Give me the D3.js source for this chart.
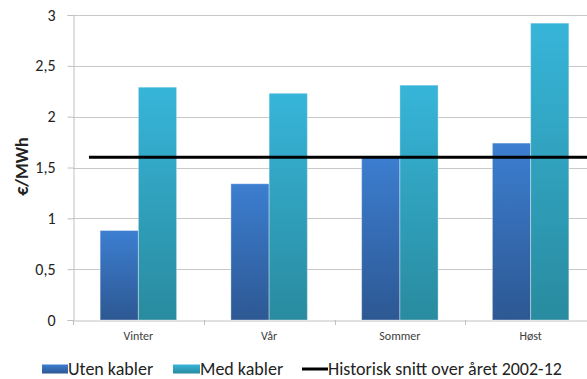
<!DOCTYPE html>
<html><head><meta charset="utf-8">
<script src="https://cdn.jsdelivr.net/npm/d3@7"></script>
<style>body{margin:0;background:#fff}svg{display:block}</style>
</head><body>
<script>
const categories = ["Vinter", "Vår", "Sommer", "Høst"];
const seriesNames = ["Uten kabler", "Med kabler"];
const utenKabler = [0.88, 1.34, 1.6, 1.74];
const medKabler = [2.29, 2.23, 2.31, 2.92];
const historiskSnitt = 1.6;
const lineLabel = "Historisk snitt over året 2002-12";
const yTicks = [0, 0.5, 1, 1.5, 2, 2.5, 3];
const yLabel = "€/MWh";

const W = 587, H = 379;
const svg = d3.select("body").append("svg").attr("width", W).attr("height", H);
const defs = svg.append("defs");
function grad(id, c1, c2) {
  const g = defs.append("linearGradient").attr("id", id).attr("x1", 0).attr("y1", 0).attr("x2", 0).attr("y2", 1);
  g.append("stop").attr("offset", "0%").attr("stop-color", c1);
  g.append("stop").attr("offset", "100%").attr("stop-color", c2);
}
grad("gBlue", "#3c7ed0", "#2d5893");
grad("gCyan", "#37b5d9", "#298b9f");

const pLeft = 73, pRight = 596, pTop = 15, pBottom = 320;
const x = d3.scaleBand().domain(categories).range([pLeft, pRight]);
const xs = d3.scaleBand().domain(seriesNames).range([0, x.bandwidth()]).paddingInner(0).paddingOuter(0.71);
const y = d3.scaleLinear().domain([0, 3]).range([pBottom, pTop]);
const FONT = "Carlito, Calibri, Lato, 'Liberation Sans', sans-serif";

// grid
svg.append("g").selectAll("line").data(yTicks.slice(1)).join("line")
  .attr("x1", pLeft).attr("x2", W).attr("y1", d => Math.round(y(d)) + 0.5).attr("y2", d => Math.round(y(d)) + 0.5)
  .attr("stroke", "#c8c8c8").attr("stroke-width", 1);

// y axis
const fmt = d => String(d).replace(".", ",");
const ya = svg.append("g").attr("transform", `translate(${pLeft + 0.5},0)`)
  .call(d3.axisLeft(y).tickValues(yTicks).tickFormat(fmt).tickSize(6).tickPadding(12));
ya.select(".domain").attr("stroke", "#c0c0c0");
ya.selectAll(".tick line").attr("stroke", "#c0c0c0");
ya.selectAll("text").attr("font-family", FONT).attr("font-size", 16).attr("fill", "#222");

// x axis
const xa = svg.append("g").attr("transform", `translate(0,${pBottom + 0.5})`)
  .call(d3.axisBottom(x).tickSize(0).tickPadding(11));
xa.select(".domain").attr("stroke", "#c0c0c0");
xa.selectAll("text").attr("font-family", FONT).attr("font-size", 12).attr("fill", "#404040");
// category separator ticks
svg.append("g").selectAll("line").data(categories.concat(["end"])).join("line")
  .attr("x1", (d, i) => Math.round(pLeft + i * x.bandwidth()) + 0.5)
  .attr("x2", (d, i) => Math.round(pLeft + i * x.bandwidth()) + 0.5)
  .attr("y1", pBottom).attr("y2", pBottom + 5).attr("stroke", "#c0c0c0");

// bars
const data = categories.map((c, i) => ({ c, vals: [utenKabler[i], medKabler[i]] }));
const fills = ["url(#gBlue)", "url(#gCyan)"];
const gb = svg.append("g");
data.forEach(d => {
  d.vals.forEach((v, j) => {
    gb.append("rect")
      .attr("x", x(d.c) + xs(seriesNames[j]))
      .attr("y", y(v))
      .attr("width", xs.bandwidth())
      .attr("height", y(0) - y(v))
      .attr("fill", fills[j])
      .attr("stroke", "rgba(255,255,255,0.35)").attr("stroke-width", 1);
  });
});

// historic line
svg.append("line").attr("x1", 89).attr("x2", W).attr("y1", y(historiskSnitt)).attr("y2", y(historiskSnitt))
  .attr("stroke", "#000").attr("stroke-width", 3);

// y label
svg.append("text").attr("transform", `translate(28,166.5) rotate(-90)`)
  .attr("text-anchor", "middle").attr("font-family", FONT)
  .attr("font-weight", "bold").attr("font-size", 18).attr("fill", "#222").text(yLabel);

// legend
const lg = svg.append("g").attr("font-family", FONT).attr("font-size", 18).attr("fill", "#222");
const ly = 369;
lg.append("rect").attr("x", 42).attr("y", ly - 4.5).attr("width", 26).attr("height", 9).attr("fill", "url(#gBlue)");
lg.append("text").attr("x", 68).attr("y", ly + 6).text(seriesNames[0]);
lg.append("rect").attr("x", 173).attr("y", ly - 4.5).attr("width", 27).attr("height", 9).attr("fill", "url(#gCyan)");
lg.append("text").attr("x", 200).attr("y", ly + 6).text(seriesNames[1]);
lg.append("line").attr("x1", 302).attr("x2", 328).attr("y1", ly).attr("y2", ly).attr("stroke", "#000").attr("stroke-width", 3);
lg.append("text").attr("x", 328).attr("y", ly + 6).text(lineLabel);
</script>
</body></html>
